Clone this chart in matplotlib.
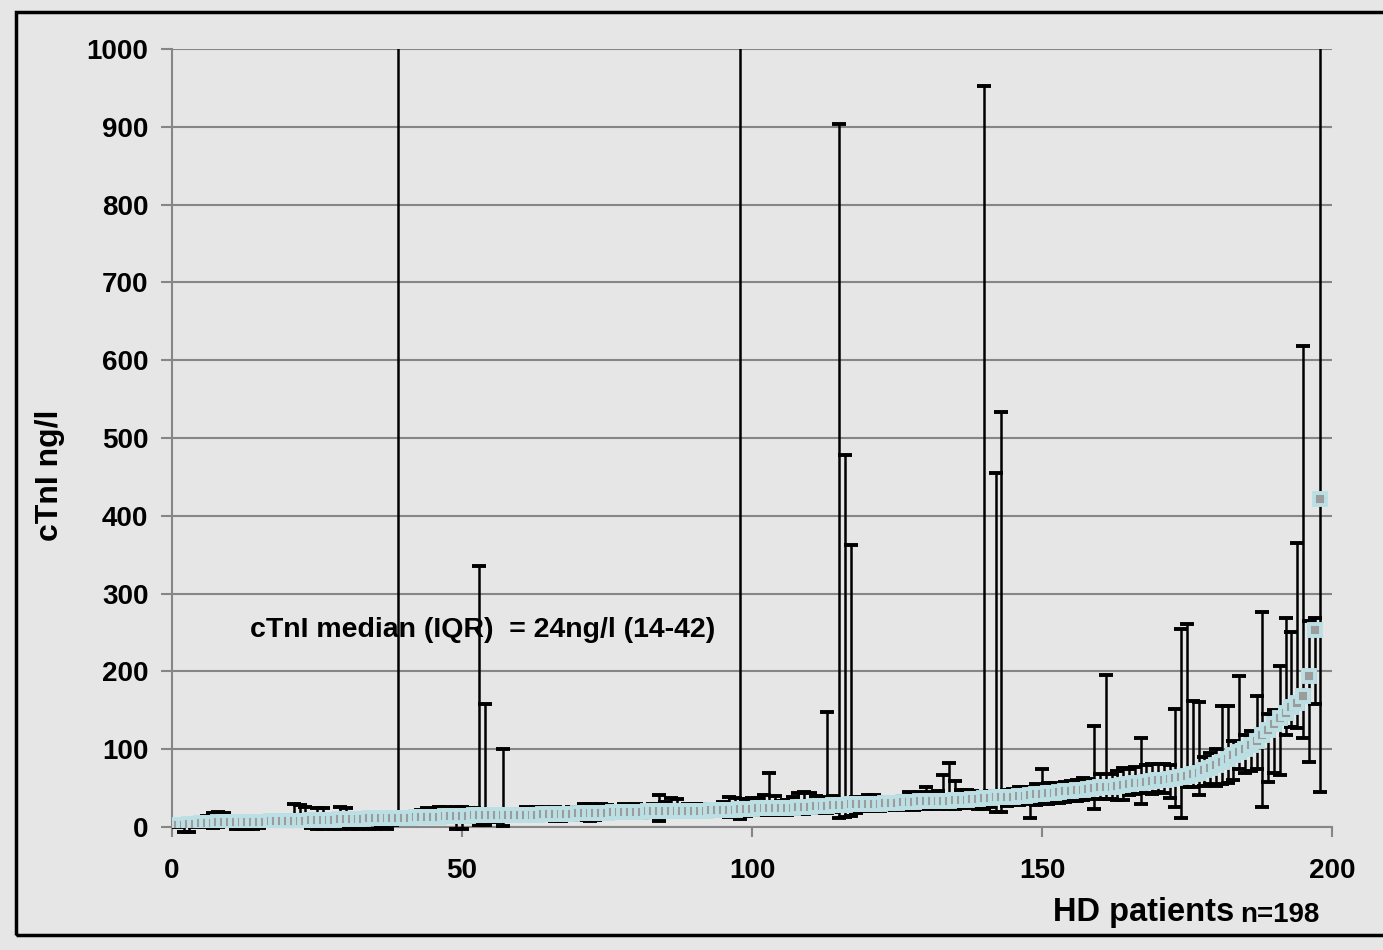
import numpy as np
import matplotlib
matplotlib.use("Agg")
import matplotlib.pyplot as plt
from matplotlib.patches import Rectangle
from matplotlib.transforms import Bbox, TransformedBbox


# ==========================
# Data
# ==========================

patients = list(range(1, 199))

median = [
    3, 3, 4, 4, 5, 5, 5, 6, 6, 6,
    6, 7, 7, 7, 7, 7, 8, 8, 8, 8,
    8, 8, 8, 9, 9, 9, 9, 9, 10, 10,
    10, 10, 10, 11, 11, 11, 11, 12, 12, 12,
    12, 13, 13, 13, 13, 13, 14, 14, 14, 14,
    14, 15, 15, 15, 15, 15, 15, 16, 16, 16,
    16, 16, 16, 17, 17, 17, 17, 17, 17, 18,
    18, 18, 18, 18, 18, 19, 19, 19, 19, 19,
    19, 20, 20, 20, 20, 20, 20, 21, 21, 21,
    21, 21, 22, 22, 22, 22, 22, 23, 23, 23,
    24, 24, 24, 25, 25, 25, 25, 26, 26, 26,
    27, 27, 27, 28, 28, 28, 29, 29, 29, 30,
    30, 30, 31, 31, 31, 32, 32, 32, 33, 33,
    33, 34, 34, 34, 35, 35, 35, 36, 36, 37,
    37, 38, 38, 39, 39, 40, 40, 41, 42, 43,
    44, 44, 45, 46, 46, 47, 48, 49, 50, 51,
    51, 52, 53, 54, 55, 56, 57, 58, 59, 60,
    61, 62, 63, 64, 66, 68, 70, 73, 76, 80,
    84, 88, 92, 96, 100, 105, 111, 118, 125, 132,
    140, 147, 154, 160, 168, 194, 253, 421,
]

high = [
    6, 8, 10, 10, 12, 14, 18, 19, 18, 12,
    10, 11, 12, 12, 11, 12, 13, 14, 13, 15,
    29, 28, 26, 14, 25, 24, 15, 14, 26, 25,
    14, 15, 15, 16, 16, 15, 17, 16, 1600, 17,
    17, 18, 22, 24, 23, 26, 26, 25, 26, 26,
    25, 24, 336, 158, 22, 22, 100, 21, 22, 22,
    26, 25, 26, 26, 25, 26, 25, 24, 26, 23,
    29, 29, 28, 29, 28, 24, 23, 29, 28, 29,
    27, 26, 30, 41, 32, 37, 36, 28, 29, 30,
    29, 28, 27, 28, 32, 38, 37, 1600, 36, 37,
    37, 41, 70, 40, 33, 35, 38, 44, 45, 44,
    40, 39, 148, 40, 903, 478, 362, 39, 38, 41,
    41, 36, 38, 39, 37, 40, 45, 44, 45, 52,
    45, 46, 67, 82, 59, 48, 47, 46, 45, 952,
    46, 455, 533, 48, 49, 52, 52, 52, 55, 74,
    57, 56, 55, 58, 59, 60, 63, 62, 130, 68,
    195, 68, 72, 76, 75, 77, 114, 80, 81, 81,
    81, 80, 152, 254, 261, 162, 161, 90, 95, 100,
    155, 155, 110, 194, 118, 124, 169, 276, 145, 150,
    207, 268, 251, 365, 618, 265, 268, 1600,
]

low = [
    0, -6, -6, 0, 1, 0, -1, 0, 1, 2,
    -2, -2, -2, -2, -1, 2, 3, 3, 2, 4,
    3, 4, 2, -1, -2, -2, -1, -2, -2, -1,
    -2, -2, -1, -2, -2, -1, -2, 3, 4, 5,
    5, 6, 6, 7, 7, 8, 9, 8, -2, -2,
    6, 7, 2, 2, 6, 7, 1, 8, 9, 9,
    8, 8, 9, 9, 10, 8, 8, 9, 9, 9,
    9, 8, 9, 10, 11, 11, 12, 13, 12, 12,
    12, 13, 13, 8, 14, 14, 14, 14, 15, 15,
    15, 15, 14, 15, 14, 13, 14, 10, 14, 15,
    15, 15, 16, 16, 16, 15, 17, 17, 17, 18,
    18, 19, 18, 19, 12, 13, 14, 18, 20, 20,
    20, 21, 22, 22, 23, 22, 23, 22, 24, 23,
    24, 23, 24, 23, 23, 25, 24, 26, 23, 23,
    26, 19, 19, 27, 28, 28, 29, 11, 28, 30,
    30, 31, 31, 32, 33, 34, 35, 36, 23, 36,
    36, 36, 35, 35, 41, 42, 29, 44, 43, 45,
    44, 37, 26, 12, 52, 51, 41, 53, 55, 53,
    55, 56, 60, 75, 70, 72, 75, 26, 58, 70,
    67, 118, 129, 127, 115, 83, 158, 45,
]

y_ticks = [0, 100, 200, 300, 400, 500, 600, 700, 800, 900, 1000]
x_ticks = [0, 50, 100, 150, 200]

note = "cTnI median (IQR)  = 24ng/l (14-42)"


# ==========================
# Style
# ==========================

BG = "#e6e6e6"
GRID = "#868686"
MARK_EDGE = "#bcdfe3"
MARK_FACE = "#9c9c9c"

plt.rcParams["font.family"] = ["Liberation Sans", "DejaVu Sans"]
plt.rcParams["font.weight"] = "bold"


# ==========================
# Figure
# ==========================

fig = plt.figure(figsize=(13.83, 9.5), dpi=100, facecolor=BG)

ax = fig.add_axes([172 / 1383, 123 / 950, 1160 / 1383, 778 / 950])
ax.set_facecolor(BG)

med = np.array(median, dtype=float)
hi = np.array(high, dtype=float)
lo = np.array(low, dtype=float)

data_line, caplines, barcols = ax.errorbar(
    patients,
    med,
    yerr=[med - lo, hi - med],
    fmt="s",
    ms=8.5,
    mfc=MARK_FACE,
    mec=MARK_EDGE,
    mew=2.8,
    ecolor="black",
    elinewidth=1.8,
    capsize=5.2,
    capthick=1.8,
    zorder=3,
)

# let the bars dip a bit below the x axis, but cut them at the top
clip = TransformedBbox(Bbox([[0, -0.03], [1, 1]]), ax.transAxes)
for art in list(caplines) + list(barcols):
    art.set_clip_path(None)
    art.set_clip_box(clip)

ax.set_xlim(0, 200)
ax.set_ylim(0, 1000)

ax.set_xticks(x_ticks)
ax.set_yticks(y_ticks)

ax.yaxis.grid(True, color=GRID, linewidth=1.5)
ax.set_axisbelow(True)

for side in ["top", "right"]:
    ax.spines[side].set_visible(False)
for side in ["left", "bottom"]:
    ax.spines[side].set_color(GRID)
    ax.spines[side].set_linewidth(1.5)

ax.tick_params(axis="y", direction="out", length=8, width=1.5,
               color=GRID, pad=9, labelsize=20)
ax.tick_params(axis="x", direction="out", length=7, width=1.5,
               color=GRID, pad=15, labelsize=20)

ax.text(13.4, 253, note, fontsize=20.5, fontweight="bold",
        ha="left", va="center")

fig.text(50 / 1383, 1 - 475 / 950, "cTnI ng/l", rotation=90,
         fontsize=23, fontweight="bold", ha="center", va="center")

fig.text(1234 / 1383, 1 - 913 / 950, "HD patients", fontsize=23.5,
         fontweight="bold", ha="right", va="center")
fig.text(1240 / 1383, 1 - 915 / 950, "n=198", fontsize=20,
         fontweight="bold", ha="left", va="center")

# outer frame (right edge falls off the picture)
fig.patches.append(
    Rectangle((16 / 1383, 1 - 935 / 950), 1400 / 1383, 923 / 950,
              transform=fig.transFigure, fill=False,
              edgecolor="black", linewidth=2.5)
)

fig.savefig("out.png", dpi=100, facecolor=BG)
